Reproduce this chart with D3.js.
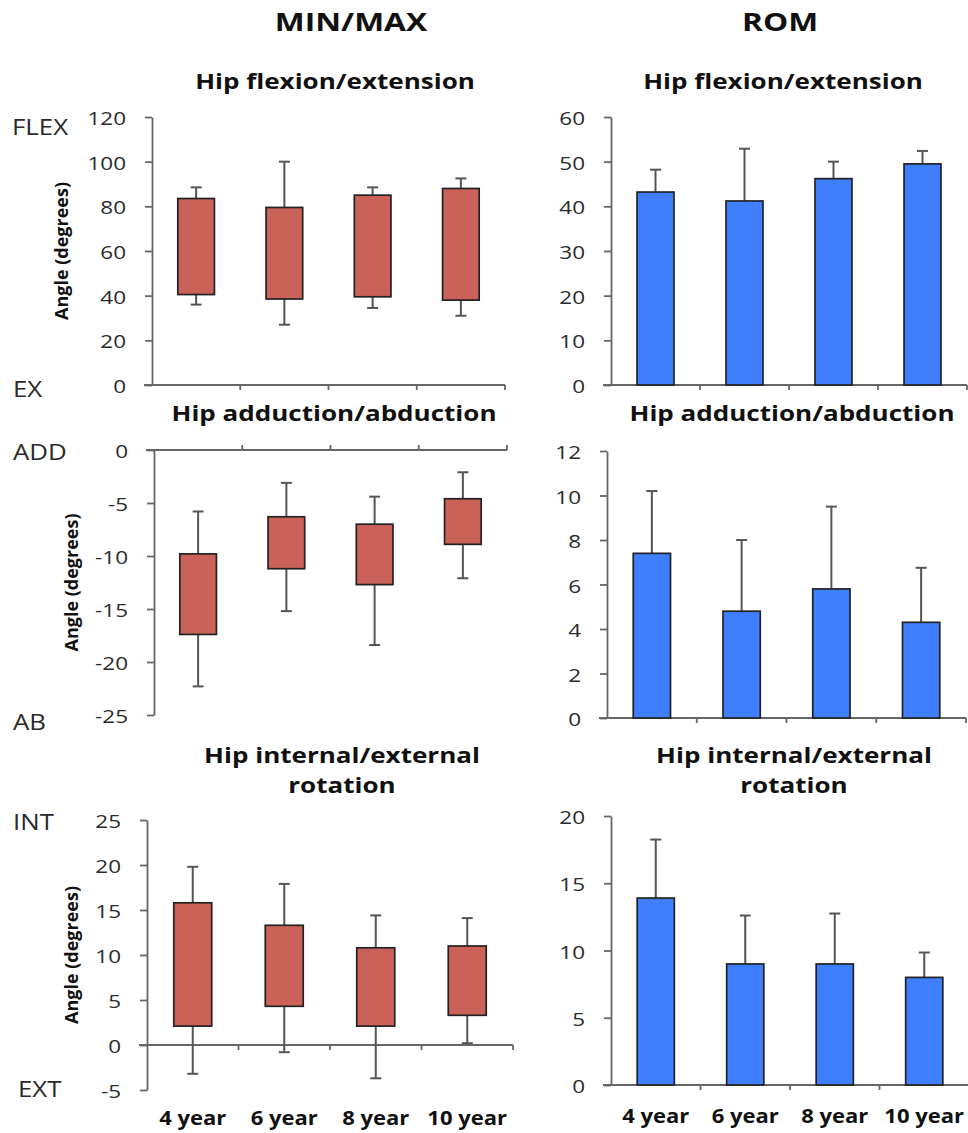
<!DOCTYPE html>
<html>
<head>
<meta charset="utf-8">
<script src="https://cdn.jsdelivr.net/npm/d3@7"></script>
<style>
  body { margin: 0; background: #fff; }
  svg { display: block; }
</style>
</head>
<body>
<svg id="fig" width="968" height="1133"></svg>
<script>
// ---- data (degrees) -------------------------------------------------------
const ages = ["4 year", "6 year", "8 year", "10 year"];

// Hip flexion/extension: mean maximum / minimum angle with SD, and mean ROM with SD
const flexMaxMean = [83.5, 79.5, 85.0, 88.0];
const flexMaxSD   = [5.0, 20.5, 3.5, 4.5];
const flexMinMean = [40.5, 38.5, 39.5, 38.0];
const flexMinSD   = [4.5, 11.5, 5.0, 7.0];
const flexRom     = [43.2, 41.2, 46.2, 49.5];
const flexRomSD   = [5.0, 11.7, 3.8, 2.9];

// Hip adduction/abduction
const addMaxMean = [-9.8, -6.3, -7.0, -4.6];
const addMaxSD   = [4.0, 3.2, 2.6, 2.5];
const addMinMean = [-17.4, -11.2, -12.7, -8.9];
const addMinSD   = [4.9, 4.0, 5.7, 3.2];
const addRom     = [7.4, 4.8, 5.8, 4.3];
const addRomSD   = [2.8, 3.2, 3.7, 2.45];

// Hip internal/external rotation
const rotMaxMean = [15.8, 13.3, 10.8, 11.0];
const rotMaxSD   = [4.0, 4.6, 3.6, 3.1];
const rotMinMean = [2.1, 4.3, 2.1, 3.3];
const rotMinSD   = [5.3, 5.1, 5.8, 3.1];
const rotRom     = [13.9, 9.0, 9.0, 8.0];
const rotRomSD   = [4.35, 3.6, 3.75, 1.85];

// axis tick values
const flexTicks    = [0, 20, 40, 60, 80, 100, 120];
const addTicks     = [0, -5, -10, -15, -20, -25];
const rotTicks     = [-5, 0, 5, 10, 15, 20, 25];
const flexRomTicks = [0, 10, 20, 30, 40, 50, 60];
const addRomTicks  = [0, 2, 4, 6, 8, 10, 12];
const rotRomTicks  = [0, 5, 10, 15, 20];

// ---- styling ----------------------------------------------------------------
const FONT = "'Open Sans', 'DejaVu Sans', sans-serif";
const RED = "#ca6259";
const BLUE = "#3f7efc";
const AXIS = "#666";
const WHISK = "#555";

const svg = d3.select("#fig");

// text with a horizontal stretch of the lettering
function label(g, x, y, str, o) {
  return g.append("text")
    .attr("transform", `translate(${x},${y}) scale(${o.sx || 1},1)`)
    .attr("text-anchor", o.anchor || "middle")
    .attr("font-family", FONT)
    .attr("font-size", o.size)
    .attr("font-weight", o.weight || 400)
    .attr("fill", o.fill || "#111")
    .text(str);
}

// ---- panel layout -----------------------------------------------------------
const rangePanels = [
  { x0: 152, x1: 505, yTop: 117, yBot: 385, domain: [0, 120], ticks: flexTicks,
    maxMean: flexMaxMean, maxSD: flexMaxSD, minMean: flexMinMean, minSD: flexMinSD,
    tickDir: 1, angleX: 63 },
  { x0: 154, x1: 507, yTop: 450, yBot: 715, domain: [-25, 0], ticks: addTicks,
    maxMean: addMaxMean, maxSD: addMaxSD, minMean: addMinMean, minSD: addMinSD,
    tickDir: -1, angleX: 73 },
  { x0: 147, x1: 513, yTop: 820, yBot: 1090, domain: [-5, 25], ticks: rotTicks,
    maxMean: rotMaxMean, maxSD: rotMaxSD, minMean: rotMinMean, minSD: rotMinSD,
    tickDir: 1, angleX: 73 }
];

const romPanels = [
  { x0: 611, x1: 967, yTop: 117, yBot: 385, domain: [0, 60], ticks: flexRomTicks,
    values: flexRom, sd: flexRomSD },
  { x0: 607, x1: 966, yTop: 451, yBot: 718, domain: [0, 12], ticks: addRomTicks,
    values: addRom, sd: addRomSD },
  { x0: 611, x1: 969, yTop: 816, yBot: 1085, domain: [0, 20], ticks: rotRomTicks,
    values: rotRom, sd: rotRomSD }
];

function makeScales(p) {
  const x = d3.scaleBand().domain(ages).range([p.x0, p.x1])
    .paddingInner(0.585).paddingOuter(0.2925);
  const y = d3.scaleLinear().domain(p.domain).range([p.yBot, p.yTop]);
  return { x, y };
}

function drawAxes(g, p, x, y, tickDir) {
  // value axis
  const ya = g.append("g")
    .attr("transform", `translate(${p.x0},0)`)
    .call(d3.axisLeft(y).tickValues(p.ticks).tickSize(7).tickSizeOuter(0)
      .tickFormat(d => d < 0 ? "-" + Math.abs(d) : d));
  ya.select(".domain").attr("stroke", AXIS).attr("stroke-width", 1.8);
  ya.selectAll(".tick line").attr("stroke", AXIS).attr("stroke-width", 1.8);
  ya.selectAll(".tick text")
    .attr("x", null).attr("dy", "0.42em")
    .attr("transform", "translate(-26,0) scale(1.25,1)")
    .attr("font-family", FONT).attr("font-size", 18).attr("fill", "#2b2b2b");

  // category axis at zero with ticks on the band boundaries
  const y0 = y(0);
  g.append("line")
    .attr("x1", p.x0 - 8).attr("x2", p.x1)
    .attr("y1", y0).attr("y2", y0)
    .attr("stroke", AXIS).attr("stroke-width", 1.8);
  const step = x.step();
  g.selectAll(null).data(d3.range(1, ages.length + 1)).join("line")
    .attr("x1", i => p.x0 + i * step).attr("x2", i => p.x0 + i * step)
    .attr("y1", y0).attr("y2", y0 + 5 * tickDir)
    .attr("stroke", AXIS).attr("stroke-width", 1.8);
}

function whisker(g, cx, yFrom, yTo) {
  g.append("line").attr("x1", cx).attr("x2", cx).attr("y1", yFrom).attr("y2", yTo)
    .attr("stroke", WHISK).attr("stroke-width", 2);
  g.append("line").attr("x1", cx - 5.5).attr("x2", cx + 5.5).attr("y1", yTo).attr("y2", yTo)
    .attr("stroke", WHISK).attr("stroke-width", 2);
}

// ---- MIN/MAX panels: floating box from mean minimum to mean maximum ---------
rangePanels.forEach(p => {
  const g = svg.append("g");
  const { x, y } = makeScales(p);
  drawAxes(g, p, x, y, p.tickDir);

  ages.forEach((a, i) => {
    const cx = x(a) + x.bandwidth() / 2;
    whisker(g, cx, y(p.maxMean[i]), y(p.maxMean[i] + p.maxSD[i]));
    whisker(g, cx, y(p.minMean[i]), y(p.minMean[i] - p.minSD[i]));
  });

  g.selectAll(null).data(ages).join("rect")
    .attr("x", a => x(a))
    .attr("width", x.bandwidth())
    .attr("y", (a, i) => y(p.maxMean[i]))
    .attr("height", (a, i) => y(p.minMean[i]) - y(p.maxMean[i]))
    .attr("fill", RED).attr("stroke", "#222").attr("stroke-width", 1.7);

  // value-axis title
  const cy = (p.yTop + p.yBot) / 2;
  g.append("text")
    .attr("transform", `translate(${p.angleX + 5},${cy}) rotate(-90)`)
    .attr("text-anchor", "middle")
    .attr("font-family", FONT).attr("font-size", 18).attr("font-weight", 700)
    .attr("fill", "#111")
    .text("Angle (degrees)");
});

// ---- ROM panels: bars with upward SD -----------------------------------------
romPanels.forEach(p => {
  const g = svg.append("g");
  const { x, y } = makeScales(p);
  drawAxes(g, p, x, y, 1);

  ages.forEach((a, i) => {
    const cx = x(a) + x.bandwidth() / 2;
    whisker(g, cx, y(p.values[i]), y(p.values[i] + p.sd[i]));
  });

  g.selectAll(null).data(ages).join("rect")
    .attr("x", a => x(a))
    .attr("width", x.bandwidth())
    .attr("y", (a, i) => y(p.values[i]))
    .attr("height", (a, i) => y(0) - y(p.values[i]))
    .attr("fill", BLUE).attr("stroke", "#222").attr("stroke-width", 1.7);
});

// ---- category labels under the bottom row -------------------------------------
[[rangePanels[2], 1125], [romPanels[2], 1123]].forEach(([p, by]) => {
  const { x } = makeScales(p);
  ages.forEach(a => {
    label(svg, x(a) + x.bandwidth() / 2, by, a, { size: 19, weight: 700, sx: 1.16 });
  });
});

// ---- headings -----------------------------------------------------------------
label(svg, 351, 31, "MIN/MAX", { size: 25, weight: 700, sx: 1.27 });
label(svg, 780, 31, "ROM", { size: 25, weight: 700, sx: 1.27 });

const subtitles = [
  { x: 335, lines: ["Hip flexion/extension"], y: 89 },
  { x: 783, lines: ["Hip flexion/extension"], y: 89 },
  { x: 334, lines: ["Hip adduction/abduction"], y: 421 },
  { x: 792, lines: ["Hip adduction/abduction"], y: 421 },
  { x: 342, lines: ["Hip internal/external", "rotation"], y: 763 },
  { x: 794, lines: ["Hip internal/external", "rotation"], y: 763 }
];
subtitles.forEach(s => {
  s.lines.forEach((t, k) => {
    label(svg, s.x, s.y + k * 30, t, { size: 21, weight: 700, sx: 1.24 });
  });
});

// ---- direction labels beside the MIN/MAX value axes ------------------------------
const sideLabels = [
  ["FLEX", 12, 135], ["EX", 13, 397],
  ["ADD", 13, 460], ["AB", 13, 730],
  ["INT", 13, 830], ["EXT", 18, 1097]
];
sideLabels.forEach(([t, x, y]) => {
  label(svg, x, y, t, { size: 21, anchor: "start", sx: 1.23, fill: "#2a2a2a" });
});
</script>
</body>
</html>
